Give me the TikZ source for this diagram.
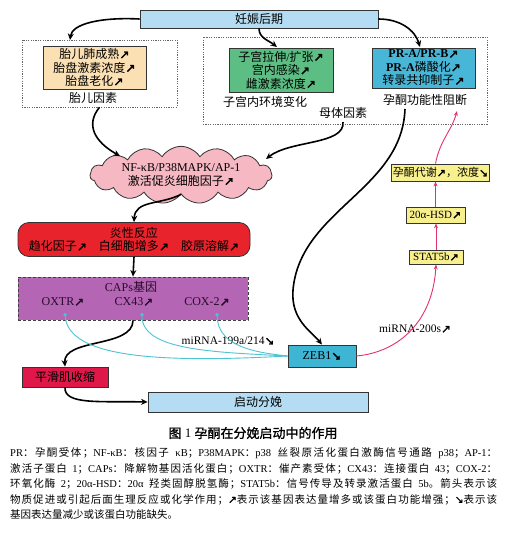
\documentclass[tikz,border=0pt]{standalone}
\usepackage{fontspec}
\setmainfont{Liberation Serif}
\newfontfamily\cjkf{Noto Sans CJK SC}
\newfontfamily\cjkbf{Noto Sans CJK SC}[FakeBold=1.2]
\newfontfamily\arrf{DejaVu Sans}[Scale=1.0,FakeBold=2]
\usetikzlibrary{shapes.symbols,arrows.meta}
\XeTeXinterchartokenstate=1
\newXeTeXintercharclass\Ccls
\newXeTeXintercharclass\Acls
\newcount\tmpc
\def\setrange#1#2#3{\tmpc=#1\relax\loop\XeTeXcharclass\tmpc=#3\relax\ifnum\tmpc<#2\advance\tmpc by 1\repeat}
\setrange{"4E00}{"9FFF}{\Ccls}
\setrange{"3000}{"303F}{\Ccls}
\setrange{"FF00}{"FFEF}{\Ccls}
\setrange{"2190}{"21FF}{\Acls}
\XeTeXinterchartoks 0 \Ccls={\cjkf}
\XeTeXinterchartoks 4095 \Ccls={\cjkf}
\XeTeXinterchartoks \Acls \Ccls={\cjkf}
\XeTeXinterchartoks \Ccls \Ccls={\hskip0pt plus 0.5pt\relax}
\XeTeXinterchartoks 0 \Acls={\arrf}
\XeTeXinterchartoks 4095 \Acls={\arrf}
\XeTeXinterchartoks \Ccls \Acls={\arrf}
\XeTeXinterchartoks \Ccls 0={\rmfamily}
\XeTeXinterchartoks \Ccls 4095={\rmfamily}
\XeTeXinterchartoks \Acls 0={\rmfamily}
\XeTeXinterchartoks \Acls 4095={\rmfamily}
\definecolor{topblue}{HTML}{B4DDF3}
\definecolor{beige}{HTML}{FBE0B4}
\definecolor{grn}{HTML}{5DBE84}
\definecolor{prblue}{HTML}{48B6D6}
\definecolor{cloudpk}{HTML}{F6B8C2}
\definecolor{infred}{HTML}{E8232B}
\definecolor{capspur}{HTML}{B466B4}
\definecolor{captxt}{HTML}{2A0A2A}
\definecolor{smcred}{HTML}{E0184A}
\definecolor{zebblue}{HTML}{3DB5D3}
\definecolor{yel}{HTML}{F7F08C}
\definecolor{cy}{HTML}{4DC3D3}
\definecolor{pk}{HTML}{E0336E}
\begin{document}
\begin{tikzpicture}[x=1pt,y=-1pt,
  bx/.style={draw=black!80, line width=0.8pt, inner sep=1pt, align=center},
  arr/.style={line width=1.6pt, -{Stealth[length=6.5pt,width=6pt]}},
  parr/.style={draw=pk, line width=0.9pt, -{Stealth[length=5pt,width=4pt]}},
  carr/.style={draw=cy, line width=0.9pt, {Circle[length=3.5pt]}-},
  dbox/.style={draw=black!60, dash pattern=on 1.2pt off 1.2pt, line width=0.6pt},
  f12/.style={font=\fontsize{12}{13.5}\selectfont},
  f11/.style={font=\fontsize{11}{12}\selectfont}]
\useasboundingbox (0,0) rectangle (506,541);
\fill[white] (0,0) rectangle (506,541);
% top
\node[bx, fill=topblue, minimum width=238pt, minimum height=18pt, f12] (top) at (259,19) {妊娠后期};
% fetal
\node[dbox, minimum width=155pt, minimum height=67pt] (fet) at (99.5,73.5) {};
\node[bx, fill=beige, minimum width=103pt, minimum height=43pt, f12] (fetbox) at (94.5,67.5) {胎儿肺成熟↗\\胎盘激素浓度↗\\胎盘老化↗};
\node[f12] (fetlab) at (93,98) {胎儿因素};
% maternal
\node[dbox, minimum width=284pt, minimum height=87pt] (mat) at (345,80.5) {};
\node[bx, fill=grn, minimum width=104pt, minimum height=44pt, f12] (grnbox) at (281,70) {子宫拉伸/扩张↗\\宫内感染↗\\雌激素浓度↗};
\node[f12] (uterlab) at (265,102) {子宫内环境变化};
\node[f12] (matlab) at (343,113) {母体因素};
\node[bx, fill=prblue, minimum width=103pt, minimum height=40pt, f12] (prbox) at (423.5,68) {\textbf{PR-A/PR-B}↗\\\textbf{PR-A}磷酸化↗\\转录共抑制子↗};
\node[f12] (prlab) at (425,100) {孕酮功能性阻断};
% cloud
\node[cloud, cloud puffs=15, cloud puff arc=115, aspect=4.3, draw=black!80, line width=0.8pt, fill=cloudpk, minimum width=182pt, minimum height=42pt, inner sep=0pt, f12, align=center] (nf) at (181,175) {NF-κB/P38MAPK/AP-1\\激活促炎细胞因子↗};
% inflammation
\node[bx, fill=infred, rounded corners=11pt, minimum width=232pt, minimum height=34pt, f12] (infl) at (134,239.5) {炎性反应\\趋化因子↗\hspace{12pt}白细胞增多↗\hspace{12pt}胶原溶解↗};
% CAPs
\node[draw=black!75, dash pattern=on 3pt off 2pt, line width=0.9pt, fill=capspur, minimum width=230pt, minimum height=43pt] (caps) at (133,298.5) {};
\node[f12, text=captxt] (capslab) at (131,287) {CAPs基因};
\node[f12, text=captxt] (oxtr) at (63,302) {OXTR↗};
\node[f12, text=captxt] (cx43) at (134,302) {CX43↗};
\node[f12, text=captxt] (cox2) at (207,302) {COX-2↗};
\coordinate (doxtr) at (65,313);
\coordinate (dcx) at (142,313);
\coordinate (dcox) at (217,313);
% lower
\node[bx, fill=smcred, minimum width=86pt, minimum height=20pt, f12] (smc) at (65,377) {平滑肌收缩};
\node[bx, fill=topblue, minimum width=220pt, minimum height=20pt, f12] (labor) at (258,402) {启动分娩};
\node[bx, fill=zebblue, minimum width=68pt, minimum height=22pt, f12] (zeb) at (322,356) {ZEB1↘};
\node[bx, fill=yel, minimum width=54pt, minimum height=14pt, f11] (stat) at (436,257) {STAT5b↗};
\node[bx, fill=yel, minimum width=59pt, minimum height=16pt, f11] (hsd) at (435.5,215) {20α-HSD↗};
\node[bx, fill=yel, minimum width=95pt, minimum height=17pt, f11] (met) at (440.5,172.5) {孕酮代谢↗，浓度↘};
\node[font=\fontsize{11.5}{12}\selectfont] (mir199) at (228,341) {miRNA-199a/214↘};
\node[font=\fontsize{11.5}{12}\selectfont] (mir200) at (415,329) {miRNA-200s↗};
% connector end points
\coordinate (e1) at (70,40);
\coordinate (e2) at (277,47);
\coordinate (e3) at (420,47);
\coordinate (e4) at (120,156);
\coordinate (e5) at (266,159);
\coordinate (s10) at (405,109);
\coordinate (m10) at (293,290);
\coordinate (e15) at (457,111);
% black arrows
\draw[arr] (top.west) .. controls (100,17) and (72,24) .. (e1);
\draw[arr] (top.south) .. controls (259,38) and (268,40) .. (e2);
\draw[arr] (top.east) .. controls (400,19) and (415,30) .. (e3);
\draw[arr] (fet.south) .. controls (85,125) and (95,142) .. (e4);
\draw[arr] (matlab.south) .. controls (345,145) and (290,140) .. (e5);
\draw[arr] (nf.south) .. controls (160,205) and (135,200) .. (infl.north);
\draw[arr] (infl.south) -- (caps.north);
\draw[arr] (caps.south) .. controls (133,348) and (63,338) .. (smc.north);
\draw[arr] (smc.south) .. controls (64,405) and (100,401) .. (labor.west);
\draw[arr] (s10) .. controls (402,190) and (300,210) .. (m10) .. controls (290.5,320) and (312,332) .. (zeb.north);
% cyan
\draw[carr] (doxtr) .. controls (68,358) and (160,363) .. (zeb.west);
\draw[carr] (dcx) .. controls (142,350) and (210,352) .. (zeb.west);
\draw[carr] (dcox) .. controls (218,345) and (250,352) .. (zeb.west);
% pink
\draw[parr] (zeb.east) .. controls (400,352) and (433,320) .. (stat.south);
\draw[parr] (stat.north) -- (stat.north |- hsd.south);
\draw[parr] (hsd.north) -- (hsd.north |- met.south);
\draw[parr] (hsd.north |- met.north) .. controls (440,140) and (452,130) .. (e15);
% caption
\node[font=\fontsize{13}{15}\selectfont] (cap) at (253,433) {\let\cjkf\cjkbf 图 1 孕酮在分娩启动中的作用};
\begin{scope}[every node/.style={anchor=west, inner sep=0pt, font=\fontsize{10.5}{12}\selectfont}]
\node (lg1) at (10,453) {\makebox[487pt][s]{PR：孕酮受体；NF-κB：核因子 κB；P38MAPK：p38 丝裂原活化蛋白激酶信号通路 p38；AP-1：}};
\node (lg2) at (10,468.5) {\makebox[487pt][s]{激活子蛋白 1；CAPs：降解物基因活化蛋白；OXTR：催产素受体；CX43：连接蛋白 43；COX-2：}};
\node (lg3) at (10,484) {\makebox[487pt][s]{环氧化酶 2；20α-HSD：20α 羟类固醇脱氢酶；STAT5b：信号传导及转录激活蛋白 5b。箭头表示该}};
\node (lg4) at (10,499.5) {\makebox[487pt][s]{物质促进或引起后面生理反应或化学作用；↗表示该基因表达量增多或该蛋白功能增强；↘表示该}};
\node (lg5) at (10,515) {基因表达量减少或该蛋白功能缺失。};
\end{scope}
\end{tikzpicture}
\end{document}
